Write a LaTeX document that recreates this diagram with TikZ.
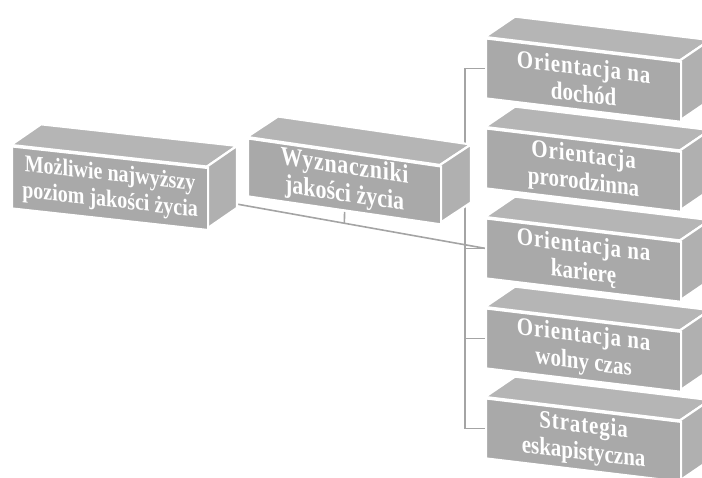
\documentclass[tikz,border=0pt]{standalone}
\usepackage{fontspec}
\setmainfont{Liberation Serif}
\usetikzlibrary{calc,backgrounds}
\definecolor{frontgray}{HTML}{A9A9A9}
\definecolor{topgray}{HTML}{B5B5B5}
\definecolor{sidegray}{HTML}{B0B0B0}
\definecolor{linegray}{HTML}{A4A4A4}
\tikzset{
  face/.style={draw=white, line width=2.2pt, line join=miter},
  topface/.style={face, fill=topgray},
  sideface/.style={face, fill=sidegray},
  frontface/.style={face, fill=frontgray, anchor=north west, inner sep=0pt,
    minimum width=195, minimum height=50, yscale=1.2, align=center, text=white,
    font=\bfseries\fontsize{21}{22.5}\selectfont, transform shape},
  link/.style={draw=linegray, line width=1.6pt}
}
\begin{document}
\begin{tikzpicture}[x=1pt, y=-1pt]
  \useasboundingbox (0,0) rectangle (702,477);
  \clip (0,0) rectangle (702,477);
  % Coordinates for the bracket on the right
  \coordinate (bus) at (465,0);
  % Left box
  \begin{scope}[shift={(11,145)}, yslant=-0.11]
    \path[topface] (0,0) -- (30,-24) -- (226,-24) -- (196,0) -- cycle;
    \path[sideface] (196,0) -- (226,-24) -- (226,38) -- (196,62) -- cycle;
    \node[frontface, minimum width=196, minimum height=51.7,
      font=\bfseries\fontsize{20}{22}\selectfont] (m) at (0,0)
      {Możliwie najwyższy\\poziom jakości życia};
  \end{scope}
  % Right boxes
  \foreach \n/\y/\t in {a/37/{Orientacja na\\dochód}, b/127/{Orientacja\\prorodzinna},
      c/217/{Orientacja na\\karierę}, d/307/{Orientacja na\\wolny czas},
      e/397/{Strategia\\eskapistyczna}} {
    \begin{scope}[shift={(485,\y)}, yslant=-0.12]
      \path[topface] (0,0) -- (30,-24) -- (225,-24) -- (195,0) -- cycle;
      \path[sideface] (195,0) -- (225,-24) -- (225,36) -- (195,60) -- cycle;
      \node[frontface] (\n) at (0,0) {\addfontfeature{LetterSpace=4}\t};
    \end{scope}
  }
  % Middle box
  \begin{scope}[shift={(247,137)}, yslant=-0.145]
    \path[topface] (0,0) -- (31,-25) -- (224,-25) -- (193,0) -- cycle;
    \path[sideface] (193,0) -- (224,-25) -- (224,33) -- (193,58) -- cycle;
    \node[frontface, minimum width=193, minimum height=48.3,
      font=\bfseries\fontsize{22}{23}\selectfont] (w) at (0,0)
      {\addfontfeature{LetterSpace=3}Wyznaczniki\\jakości życia};
  \end{scope}
  % Connections behind the boxes
  \coordinate (j) at ($(m.east)!0.49!(c.west)$);
  \begin{scope}[on background layer]
    \draw[link] (m.east) -- (c.west);
    \draw[link] (w.south) -- (j);
    \draw[link] (a.west) -- (a.west -| bus) -- (e.west -| bus) -- (e.west);
    \foreach \n in {c,d}
      \draw[link] (\n.west) -- (\n.west -| bus);
  \end{scope}
\end{tikzpicture}
\end{document}
